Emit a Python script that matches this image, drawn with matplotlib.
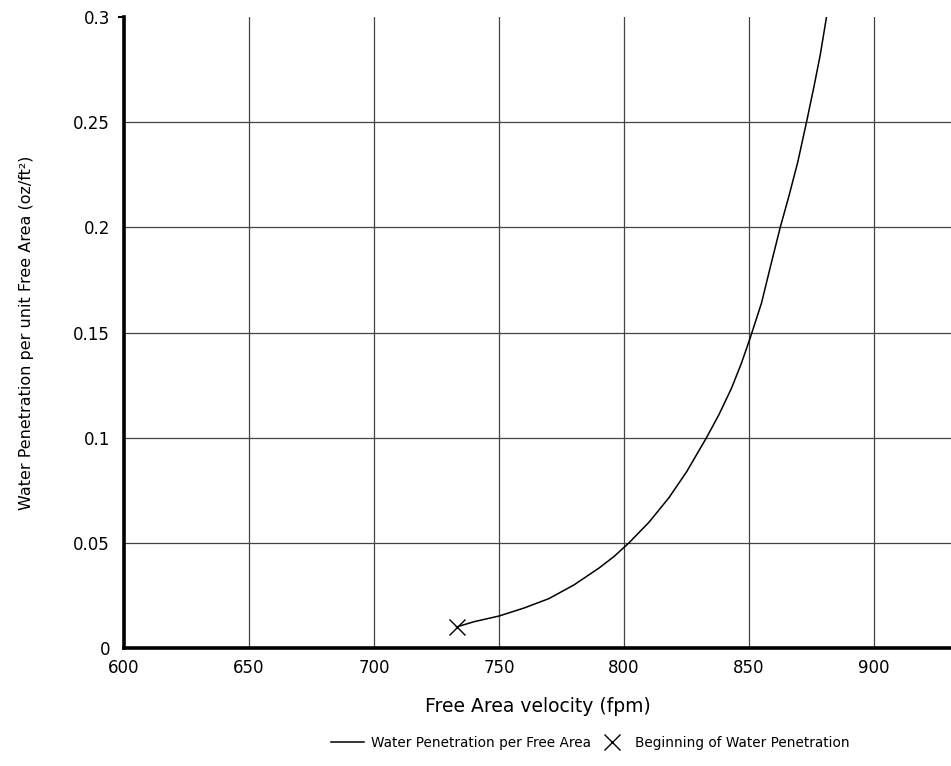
import numpy as np
import matplotlib.pyplot as plt

plt.rcParams['font.family'] = ['DejaVu Sans']

# curve
velocity = [733, 740, 750, 760, 770, 780, 790, 796, 802, 810, 818, 825, 833,
            838, 843, 847, 850.5, 855, 858.5, 862.5, 866, 869.5, 873, 876,
            878.5, 881]
penetration = [0.010, 0.0125, 0.0152, 0.019, 0.0235, 0.0300, 0.0380, 0.0435,
               0.050, 0.0598, 0.0715, 0.0837, 0.100, 0.1110, 0.1235, 0.1355,
               0.1475, 0.164, 0.181, 0.200, 0.215, 0.231, 0.250, 0.267,
               0.282, 0.300]

start_x = [733]
start_y = [0.010]

xticks = [600, 650, 700, 750, 800, 850, 900]
yticks = [0, 0.05, 0.1, 0.15, 0.2, 0.25, 0.3]
ylabels = ['0', '0.05', '0.1', '0.15', '0.2', '0.25', '0.3']

fig = plt.figure(figsize=(9.51, 7.66), dpi=100)
ax = fig.add_axes([124/951, 118/766, 827/951, 631/766])

ax.plot(velocity, penetration, color='black', lw=1.1, label='Water Penetration per Free Area')
ax.plot(start_x, start_y, ls='none', marker='x', ms=11, mew=1.0, color='black',
        label='Beginning of Water Penetration')

ax.set_xlim(600, 930.8)
ax.set_ylim(0, 0.3)
ax.set_xticks(xticks)
ax.set_yticks(yticks)
ax.set_yticklabels(ylabels)
ax.grid(True, color='#444444', lw=0.9)
ax.set_axisbelow(True)
ax.get_ygridlines()[-1].set_visible(False)
ax.tick_params(axis='x', length=0, labelsize=12, pad=8)
ax.tick_params(axis='y', length=4, width=1.5, labelsize=12, pad=6)
for t in ax.yaxis.get_major_ticks()[:-1]:
    t.tick1line.set_visible(False)

for s in ['top', 'right']:
    ax.spines[s].set_visible(False)
ax.spines['left'].set_linewidth(2.6)
ax.spines['bottom'].set_linewidth(2.6)

ax.set_xlabel('Free Area velocity (fpm)', fontsize=13.5, labelpad=14)
ax.set_ylabel('Water Penetration per unit Free Area (oz/ft²)', fontsize=11.5, labelpad=28)

fig.legend(loc='center', bbox_to_anchor=(0.621, 0.03), ncol=2, frameon=False,
           fontsize=9.8, handlelength=2.4, columnspacing=0.4, handletextpad=0.5)

fig.savefig('out.png', dpi=100)
